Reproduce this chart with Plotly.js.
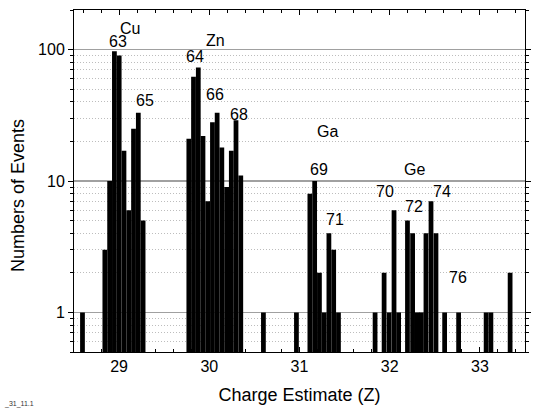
<!DOCTYPE html>
<html>
<head>
<meta charset="utf-8">
<script src="https://cdn.plot.ly/plotly-3.0.1.min.js"></script>
<style>html,body{margin:0;padding:0;background:#fff;}#chart{width:538px;height:412px;}</style>
</head>
<body>
<div id="chart"></div>
<script>
// Histogram bins (charge estimate Z) and counts
const cuZ = [28.842, 28.895, 28.948, 29.001, 29.054, 29.107, 29.160, 29.213, 29.266];
const cuN = [3, 10, 97, 90, 17, 6, 25, 33, 5];
const znZ = [29.773, 29.825, 29.878, 29.930, 29.982, 30.035, 30.087, 30.139, 30.192, 30.244, 30.296, 30.349];
const znN = [21, 62, 73, 22, 7, 28, 33, 18, 9, 17, 29, 11];
const gaZ = [31.115, 31.168, 31.221, 31.274, 31.326, 31.379, 31.432];
const gaN = [8, 10, 2, 1, 4, 3, 1];
const geZ = [31.938, 31.994, 32.048, 32.099, 32.197, 32.254, 32.305, 32.351, 32.402, 32.458, 32.513];
const geN = [2, 1, 6, 1, 5, 4, 1, 1, 4, 7, 4];
const otherZ = [28.594, 30.600, 30.966, 31.838, 32.609, 32.764, 33.069, 33.122, 33.335];
const otherN = [1, 1, 1, 1, 1, 1, 1, 1, 2];

// Element / mass labels
const labelText = ["Cu", "63", "65", "Zn", "64", "66", "68", "Ga", "69", "71", "Ge", "70", "72", "74", "76"];
const labelZ    = [29.126, 28.991, 29.285, 30.072, 29.841, 30.061, 30.325, 31.314, 31.217, 31.399, 32.280, 31.953, 32.265, 32.581, 32.752];
const labelN    = [145, 115, 41, 117, 88, 45.6, 32.3, 23.7, 12.2, 5.07, 12.3, 8.3, 6.43, 8.3, 1.83];

const xTitle = "Charge Estimate (Z)";
const yTitle = "Numbers of Events";
const footText = "_31_11.1";

const allZ = [].concat(otherZ, cuZ, znZ, gaZ, geZ);
const allN = [].concat(otherN, cuN, znN, gaN, geN);

const FONT = "Liberation Sans, Arial, sans-serif";

const trace = {
  type: "bar",
  x: allZ,
  y: allN,
  width: 0.0527,
  marker: {color: "#000000", line: {width: 0}},
  hoverinfo: "x+y"
};

const annotations = labelText.map((t, i) => ({
  text: t, x: labelZ[i], y: Math.log10(labelN[i]), xref: "x", yref: "y",
  showarrow: false, xanchor: "center", yanchor: "middle",
  font: {family: FONT, size: 16, color: "#000"}
}));
annotations.push({
  text: yTitle, xref: "paper", yref: "paper", x: -0.124, y: 0.456,
  textangle: -90, showarrow: false, xanchor: "center", yanchor: "middle",
  font: {family: FONT, size: 18, color: "#000"}
});
annotations.push({
  text: footText, xref: "paper", yref: "paper", x: -0.16, y: -0.152,
  showarrow: false, xanchor: "left", yanchor: "middle",
  font: {family: FONT, size: 7, color: "#333"}
});

const layout = {
  width: 538, height: 412,
  margin: {l: 74, r: 13, t: 10, b: 60, pad: 0},
  paper_bgcolor: "#fff", plot_bgcolor: "#fff",
  showlegend: false,
  font: {family: FONT, size: 16, color: "#000"},
  xaxis: {
    range: [28.5, 33.5],
    tickmode: "linear", tick0: 29, dtick: 1,
    ticks: "inside", ticklen: 5, tickwidth: 1, tickcolor: "#000",
    minor: {dtick: 0.2, tick0: 29, ticks: "inside", ticklen: 3, tickcolor: "#000", showgrid: false},
    showline: true, linecolor: "#000", linewidth: 1, mirror: "ticks",
    showgrid: false, zeroline: false,
    tickfont: {family: FONT, size: 16, color: "#000"},
    title: {text: xTitle, font: {family: FONT, size: 18, color: "#000"}, standoff: 14}
  },
  yaxis: {
    type: "log",
    range: [Math.log10(0.5), Math.log10(200)],
    tickmode: "array", tickvals: [1, 10, 100], ticktext: ["1", "10", "100"],
    ticks: "outside", ticklen: 5, tickwidth: 1, tickcolor: "#000",
    minor: {
      tickmode: "array",
      tickvals: [0.5, 0.6, 0.7, 0.8, 0.9, 2, 3, 4, 5, 6, 7, 8, 9, 20, 30, 40, 50, 60, 70, 80, 90, 200],
      ticks: "outside", ticklen: 3, tickcolor: "#000",
      showgrid: true, gridcolor: "#bdbdbd", griddash: "1px,2px", gridwidth: 1
    },
    showline: true, linecolor: "#000", linewidth: 1, mirror: "ticks",
    showgrid: true, gridcolor: "#a0a0a0", gridwidth: 1.5,
    zeroline: false,
    tickfont: {family: FONT, size: 16, color: "#000"}
  },
  annotations: annotations
};

Plotly.newPlot("chart", [trace], layout, {displayModeBar: false, staticPlot: true});
</script>
</body>
</html>
